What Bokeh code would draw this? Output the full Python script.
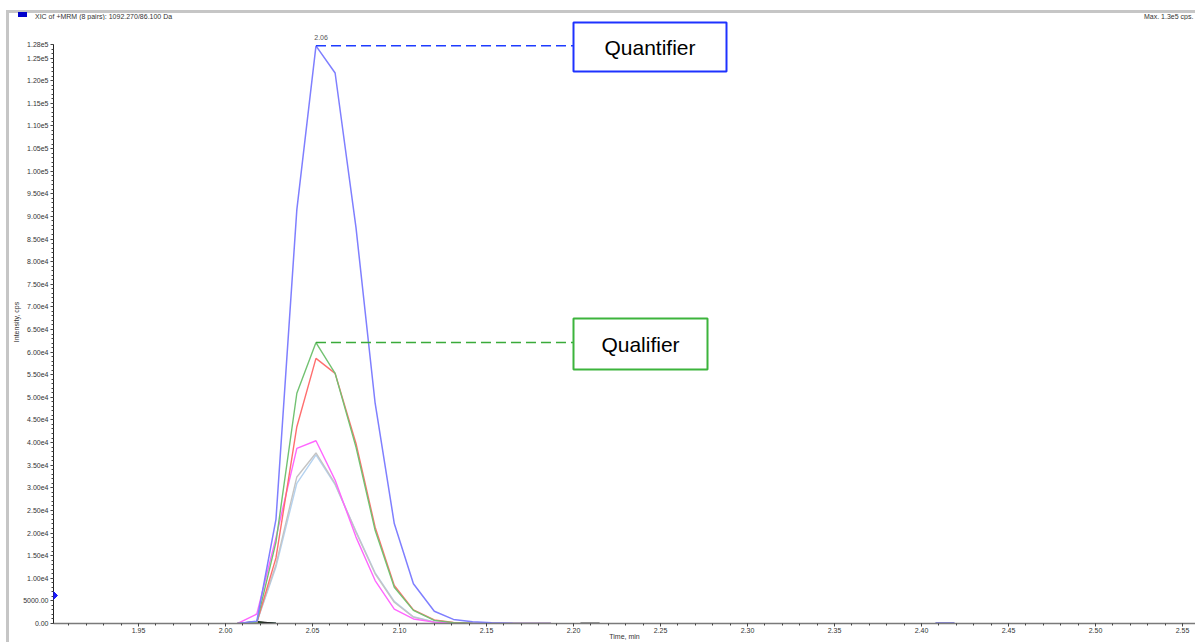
from bokeh.plotting import figure
from bokeh.layouts import column, row
from bokeh.models import (Range1d, FixedTicker, BoxAnnotation, PolyAnnotation,
                          Label, NumeralTickFormatter, Div)
from bokeh.embed import file_html
from bokeh.resources import INLINE

# ---------------- data ----------------
times = [2.007, 2.018, 2.029, 2.041, 2.052, 2.063, 2.075, 2.086, 2.097,
         2.108, 2.120, 2.131, 2.142, 2.153, 2.165, 2.176, 2.187]

quantifier_blue = [0, 500, 23000, 91500, 127700, 121700, 87500, 48700, 22100,
                   8800, 2700, 900, 400, 150, 50, 0, 0]
qualifier_green = [0, 300, 18000, 50900, 62100, 55300, 39000, 20600, 8000,
                   2900, 700, 200, 50, 0, 0, 0, 0]
trace_red = [0, 200, 14500, 43500, 58600, 55300, 39800, 21300, 8400,
             3000, 800, 250, 50, 0, 0, 0, 0]
trace_pink = [0, 2100, 19000, 38700, 40400, 31700, 19100, 9500, 3200,
              1000, 300, 100, 0, 0, 0, 0, 0]
trace_gray = [0, 300, 13000, 32400, 37700, 30900, 20200, 11000, 4700,
              1400, 300, 100, 0, 0, 0, 0, 0]
trace_lightblue = [0, 300, 12500, 31000, 37300, 30700, 20400, 11200, 4900,
                   1500, 350, 100, 0, 0, 0, 0, 0]

small_times = [2.007, 2.018, 2.029]
trace_black = [0, 400, 0]
trace_darkgreen = [0, 300, 0]
trace_navy = [0, 200, 0]

seg_a_times = [2.204, 2.215]
seg_a_values = [0, 0]
seg_b_times = [2.408, 2.419]
seg_b_values = [0, 0]

x_major_ticks = [1.95, 2.00, 2.05, 2.10, 2.15, 2.20, 2.25, 2.30, 2.35, 2.40, 2.45, 2.50, 2.55]
x_minor_ticks = [round(1.90 + 0.01 * i, 2) for i in range(66)]
y_major_ticks = [i * 5000 for i in range(26)] + [128000]
y_minor_ticks = [i * 1000 for i in range(129)]

peak_label = "2.06"
title_text = "XIC of +MRM (8 pairs): 1092.270/86.100 Da"
max_text = "Max. 1.3e5 cps."


def fmt_y(v):
    if v < 10000:
        return "%.2f" % v
    e = len(str(int(v))) - 1
    return "%.2fe%d" % (v / 10 ** e, e)


# ---------------- layout helpers (page pixel -> data) ----------------
X_PX0, X_VAL0, X_PX_PER = 225.0, 2.00, 1740.0
Y_PX0, Y_PX_PER = 623.0, 579.0 / 128000.0
HEADER_H = 20      # page rows taken by the header strip
LEFT_W = 9         # page columns taken by the left window border strip


def tx(px):
    return X_VAL0 + (px - X_PX0) / X_PX_PER


def vy(py):
    return (Y_PX0 - py) / Y_PX_PER


FONT = "Liberation Sans"

p = figure(width=1195 - LEFT_W, height=642 - HEADER_H, output_backend="svg",
           toolbar_location=None, title=None,
           x_range=Range1d(tx(53), tx(1195)),
           y_range=Range1d(0, vy(HEADER_H)),
           min_border_left=53 - LEFT_W, min_border_right=0, min_border_top=0,
           min_border_bottom=19)
p.outline_line_color = None
p.xgrid.visible = False
p.ygrid.visible = False
p.background_fill_color = "white"
p.border_fill_color = "white"

# axes
p.xaxis.ticker = FixedTicker(ticks=x_major_ticks, minor_ticks=x_minor_ticks)
p.xaxis.formatter = NumeralTickFormatter(format="0.00")
p.yaxis.ticker = FixedTicker(ticks=y_major_ticks, minor_ticks=y_minor_ticks)
p.yaxis.major_label_overrides = {v: fmt_y(v) for v in y_major_ticks}
p.yaxis.bounds = (0, 128000)
for ax in (p.xaxis[0], p.yaxis[0]):
    ax.major_tick_in = 0
    ax.major_tick_out = 3
    ax.minor_tick_in = 0
    ax.minor_tick_out = 2
    ax.major_label_standoff = 2
    ax.major_label_text_font = FONT
    ax.major_label_text_font_size = "7px"
    ax.major_label_text_color = "#333333"
    ax.major_tick_line_color = "#444444"
    ax.minor_tick_line_color = "#444444"
p.xaxis.axis_line_color = "#7a7a7a"
p.xaxis.axis_line_width = 1.5
p.xaxis.major_label_standoff = 1
p.xaxis.axis_label = "Time, min"
p.xaxis.axis_label_text_font = FONT
p.xaxis.axis_label_text_font_size = "7px"
p.xaxis.axis_label_text_font_style = "normal"
p.xaxis.axis_label_text_color = "#333333"
p.xaxis.axis_label_standoff = -3
p.yaxis.axis_line_color = "#222222"
p.yaxis.axis_label = "Intensity, cps"
p.yaxis.axis_label_text_font = FONT
p.yaxis.axis_label_text_font_size = "7px"
p.yaxis.axis_label_text_font_style = "normal"
p.yaxis.axis_label_text_color = "#333333"
p.yaxis.axis_label_standoff = 0

# traces
p.line(small_times, trace_navy, line_color="#000080", line_width=1.3)
p.line(small_times, trace_darkgreen, line_color="#006400", line_width=1.3)
p.line(small_times, trace_black, line_color="#111111", line_width=1.3)
p.line(times, trace_lightblue, line_color="#b4d2f0", line_width=1.4)
p.line(times, trace_gray, line_color="#c4c4c4", line_width=1.4)
p.line(times, trace_pink, line_color="#ff66ff", line_width=1.4)
p.line(times, trace_red, line_color="#ff6e6e", line_width=1.4)
p.line(times, qualifier_green, line_color="#72c272", line_width=1.4)
p.line(times, quantifier_blue, line_color="#7f7fff", line_width=1.5)
p.line(seg_a_times, seg_a_values, line_color="#333333", line_width=2)
p.line(seg_b_times, seg_b_values, line_color="#1010b0", line_width=2)

# annotation lines from peaks to boxes
i_q = quantifier_blue.index(max(quantifier_blue))
i_g = qualifier_green.index(max(qualifier_green))
box_left = 2.20
p.segment(x0=[times[i_q]], y0=[quantifier_blue[i_q]], x1=[box_left], y1=[quantifier_blue[i_q]],
          line_color="#1e3cff", line_width=1.5, line_dash="10 5")
p.segment(x0=[times[i_g]], y0=[qualifier_green[i_g]], x1=[box_left], y1=[qualifier_green[i_g]],
          line_color="#3aaa3a", line_width=1.5, line_dash="10 5")

# boxes
p.add_layout(BoxAnnotation(left=box_left, right=tx(726), top=vy(22), bottom=vy(71),
                           fill_color="white", fill_alpha=1.0,
                           line_color="#1e32ff", line_alpha=1.0, line_width=2))
p.add_layout(Label(x=(box_left + tx(726)) / 2, y=(vy(22) + vy(71)) / 2, text="Quantifier",
                   text_align="center", text_baseline="middle", text_font=FONT,
                   text_font_size="21px", text_color="black"))
p.add_layout(BoxAnnotation(left=box_left, right=tx(707), top=vy(318), bottom=vy(369),
                           fill_color="white", fill_alpha=1.0,
                           line_color="#3cb43c", line_alpha=1.0, line_width=2))
p.add_layout(Label(x=(box_left + tx(707)) / 2, y=(vy(318) + vy(369)) / 2, text="Qualifier",
                   text_align="center", text_baseline="middle", text_font=FONT,
                   text_font_size="21px", text_color="black"))

# peak label
p.add_layout(Label(x=times[i_q] - 0.001, y=quantifier_blue[i_q] + 1300, text=peak_label,
                   text_align="left", text_baseline="bottom", text_font=FONT,
                   text_font_size="7px", text_color="#555555"))

# threshold marker on the y axis
p.add_layout(PolyAnnotation(xs=[tx(53), tx(57), tx(53)], ys=[vy(591), vy(595), vy(599)],
                            fill_color="#1a1aff", fill_alpha=1.0,
                            line_color="#1a1aff", line_alpha=1.0))

# ---------------- window chrome: header strip + left border ----------------
header_html = (
    '<div style="position:relative;width:1195px;height:%dpx;overflow:hidden;'
    'background:white;font-family:\'Liberation Sans\',Arial,sans-serif;font-size:7px;'
    'color:#333333;line-height:7px;">'
    '<div style="position:absolute;left:7px;top:10px;width:1188px;height:2.5px;background:#c6c6c6;"></div>'
    '<div style="position:absolute;left:6px;top:10px;width:2.5px;height:12px;background:#c6c6c6;"></div>'
    '<div style="position:absolute;left:18px;top:12px;width:9px;height:5px;background:#0000cc;"></div>'
    '<div style="position:absolute;left:35px;top:13px;white-space:nowrap;">%s</div>'
    '<div style="position:absolute;left:1144px;top:13px;white-space:nowrap;">%s</div>'
    '</div>' % (HEADER_H, title_text, max_text)
)
header = Div(text=header_html, width=1195, height=HEADER_H,
             styles={"margin": "0", "padding": "0"})
left_html = (
    '<div style="position:relative;width:%dpx;height:%dpx;background:white;">'
    '<div style="position:absolute;left:6px;top:0px;width:2.5px;height:%dpx;background:#c6c6c6;"></div>'
    '</div>' % (LEFT_W, 642 - HEADER_H, 642 - HEADER_H)
)
left = Div(text=left_html, width=LEFT_W, height=642 - HEADER_H,
           styles={"margin": "0", "padding": "0"})

layout = column(header, row(left, p, spacing=0), spacing=0)

open("out.html", "w").write(file_html(layout, INLINE))
